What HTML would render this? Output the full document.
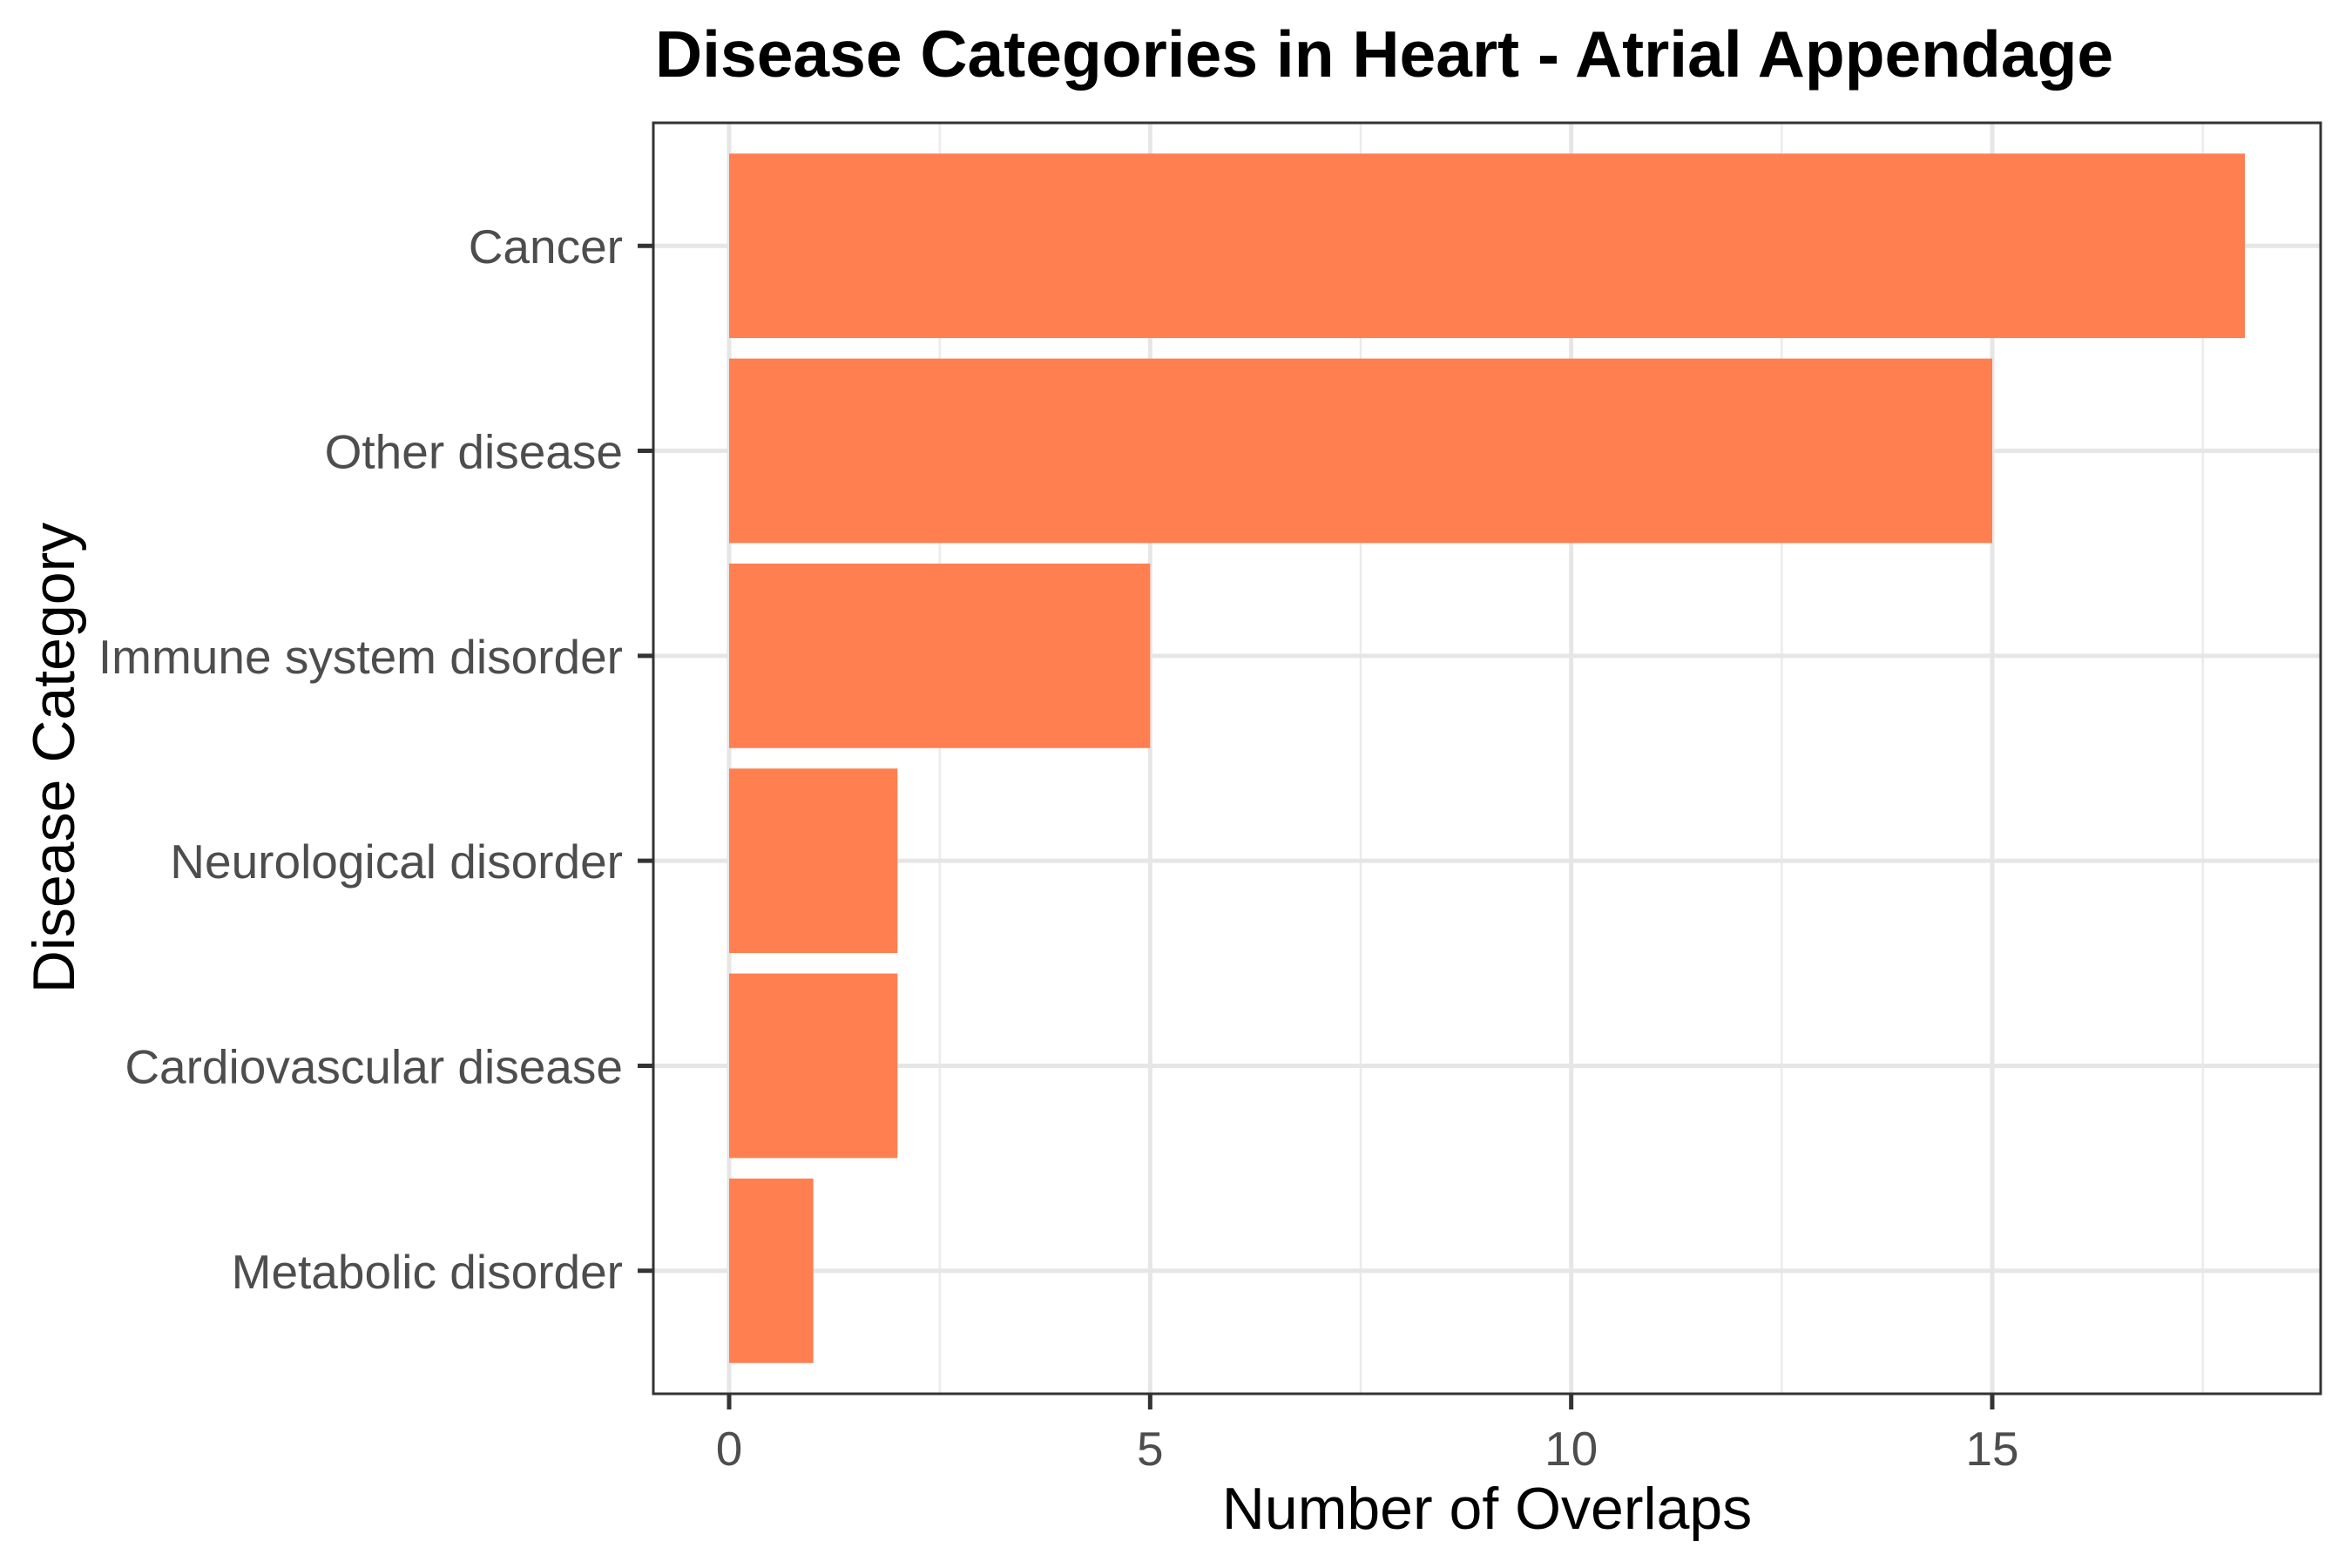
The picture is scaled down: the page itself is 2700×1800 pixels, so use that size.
<!DOCTYPE html>
<html><head><meta charset="utf-8"><style>
html,body{margin:0;padding:0;background:#fff;}
svg{display:block;font-family:"Liberation Sans",Arial,sans-serif;}
</style></head><body>
<svg id="chart" width="2700" height="1800" viewBox="0 0 2700 1800" xmlns="http://www.w3.org/2000/svg">
<rect width="2700" height="1800" fill="#fff"/>
<text x="752" y="88" font-size="75" font-weight="bold" fill="#000">Disease Categories in Heart - Atrial Appendage</text>
<g id="grid"></g>
<g id="bars"></g>
<rect x="750" y="141" width="1914" height="1459" fill="none" stroke="#333" stroke-width="3"/>
<g id="axes"></g>
<text x="1707" y="1755" font-size="68" text-anchor="middle" fill="#000">Number of Overlaps</text>
<text transform="translate(85,870) rotate(-90)" font-size="68" text-anchor="middle" fill="#000">Disease Category</text>
</svg>
<script>
const categories = ["Cancer","Other disease","Immune system disorder","Neurological disorder","Cardiovascular disease","Metabolic disorder"];
const values = [18,15,5,2,2,1];
const xTicks = [0,5,10,15];
const xMinor = [2.5,7.5,12.5,17.5];

const NS = "http://www.w3.org/2000/svg";
const L = 750, R = 2664, T = 141, B = 1600;
const xMin = -0.9, xMax = 18.9;
function xs(v){ return L + (v - xMin) / (xMax - xMin) * (R - L); }
const step = (B - T) / (categories.length - 1 + 1.2);
function yc(i){ return T + step * (i + 0.6); }
function mk(tag, attrs, parent){ const e=document.createElementNS(NS,tag); for(const k in attrs) e.setAttribute(k,attrs[k]); parent.appendChild(e); return e; }

const grid = document.getElementById('grid'), bars = document.getElementById('bars'), axes = document.getElementById('axes');
xMinor.forEach(v=>{
  const l = mk('line',{x1:xs(v),x2:xs(v),y1:T,y2:B,stroke:'#ebebeb','stroke-width':2.5},grid);
  
  
});
xTicks.forEach(v=>{
  const l = mk('line',{x1:xs(v),x2:xs(v),y1:T,y2:B,stroke:'#e6e6e6','stroke-width':5},grid);
  
  
  const t = mk('line',{x1:xs(v),x2:xs(v),y1:B,y2:B+18,stroke:'#333','stroke-width':5},axes);
  
  
  const tx = mk('text',{x:xs(v),y:1682,'font-size':55,'text-anchor':'middle',fill:'#4d4d4d'},axes);
  tx.textContent = v;
  
  
});
categories.forEach((c,i)=>{
  const y = yc(i);
  const g = mk('line',{x1:L,x2:R,y1:y,y2:y,stroke:'#e6e6e6','stroke-width':5},grid);
  
  
  const h = step*0.9;
  const b = mk('rect',{x:xs(0),y:y-h/2,width:xs(values[i])-xs(0),height:h,fill:'#FF7F50'},bars);
  
  
  const t = mk('line',{x1:L-18,x2:L,y1:y,y2:y,stroke:'#333','stroke-width':5},axes);
  
  
  const tx = mk('text',{x:715,y:y+20,'font-size':55,'text-anchor':'end',fill:'#4d4d4d'},axes);
  tx.textContent = c;
  
  
});
</script>
</body></html>
